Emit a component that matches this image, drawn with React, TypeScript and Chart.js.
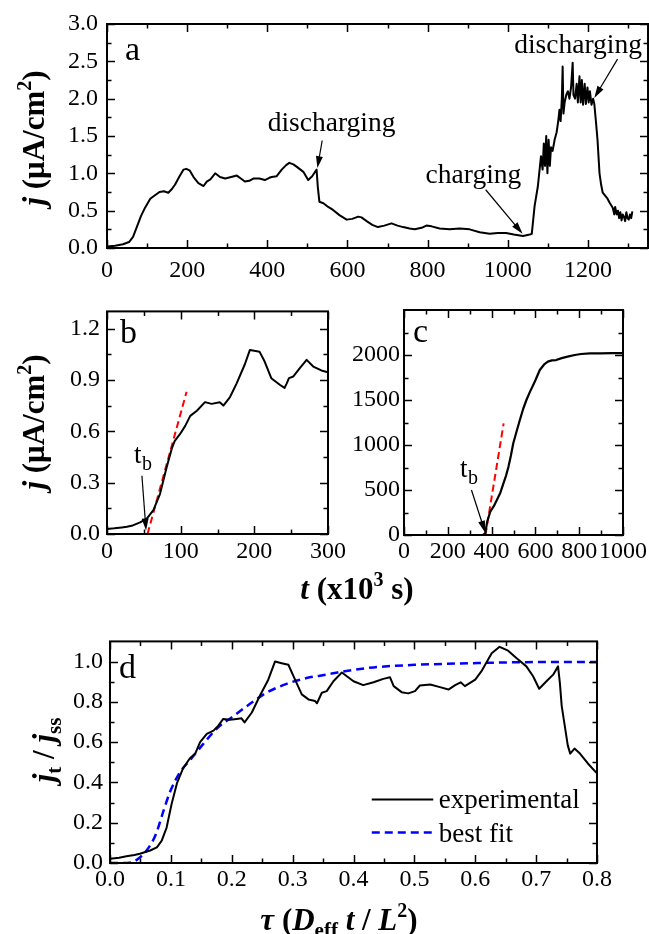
import React, { useEffect, useRef } from 'react';
import { Chart, registerables } from 'chart.js';

Chart.register(...registerables);

const FONT = '"Liberation Serif", "Times New Roman", Times, serif';
const TICK_SIZE = 24;

// ---------- Panel a: j vs t (x10^3 s) ----------
const aTime = [0, 20, 40, 55, 65, 75, 85, 95, 108, 118, 131, 142, 153, 162, 170, 180, 191, 198, 206, 216, 228, 241, 249, 258, 270, 282, 295, 310, 324, 334, 344, 355, 365, 380, 394, 405, 411, 423, 436, 447, 455, 465, 473, 490, 502, 512, 523, 526, 530, 540, 552, 564, 580, 598, 612, 627, 635, 648, 662, 676, 692, 710, 725, 739, 755, 768, 785, 797, 810, 830, 855, 880, 905, 930, 955, 975, 996, 1015, 1038, 1055, 1060, 1067, 1075, 1083, 1087, 1090, 1093, 1096, 1099, 1102, 1105, 1108, 1112, 1117, 1122, 1126, 1129, 1132, 1135, 1137, 1139, 1142, 1146, 1150, 1154, 1158, 1162, 1164, 1168, 1172, 1175, 1179, 1182, 1185, 1188, 1192, 1195, 1199, 1202, 1205, 1209, 1213, 1216, 1220, 1224, 1229, 1233, 1237, 1243, 1249, 1255, 1262, 1266, 1268, 1272, 1275, 1278, 1281, 1284, 1287, 1290, 1293, 1296, 1299, 1302, 1305, 1308, 1311];
const aCurrent = [0.02, 0.03, 0.05, 0.08, 0.15, 0.29, 0.43, 0.54, 0.66, 0.7, 0.75, 0.76, 0.74, 0.79, 0.85, 0.95, 1.05, 1.06, 1.04, 0.95, 0.87, 0.83, 0.89, 0.92, 1.0, 0.95, 0.93, 0.95, 0.97, 0.93, 0.89, 0.9, 0.93, 0.93, 0.91, 0.94, 0.95, 0.96, 1.05, 1.11, 1.14, 1.12, 1.09, 1.02, 0.91, 0.96, 1.05, 0.82, 0.62, 0.6, 0.55, 0.51, 0.44, 0.38, 0.39, 0.42, 0.41, 0.36, 0.31, 0.28, 0.3, 0.33, 0.3, 0.28, 0.26, 0.25, 0.27, 0.3, 0.29, 0.26, 0.25, 0.26, 0.25, 0.21, 0.19, 0.2, 0.2, 0.18, 0.16, 0.18, 0.19, 0.56, 0.82, 1.23, 1.05, 1.4, 1.1, 1.5, 1.0, 1.45, 1.1, 1.35, 1.3, 1.45, 1.55, 1.7, 1.85, 1.7, 2.0, 2.43, 1.8, 1.95, 2.05, 2.1, 2.0, 2.15, 2.48, 2.05, 2.0, 2.2, 1.95, 2.3, 1.95, 2.25, 1.92, 2.2, 1.93, 2.15, 1.95, 2.1, 1.92, 2.0, 1.93, 1.7, 1.45, 1.0, 0.85, 0.74, 0.7, 0.66, 0.6, 0.54, 0.45, 0.55, 0.45, 0.5, 0.4, 0.48, 0.37, 0.45, 0.42, 0.36, 0.48, 0.4, 0.38, 0.45, 0.4, 0.49];
const aXTicks = [0, 200, 400, 600, 800, 1000, 1200];
const aXMinor = [100, 300, 500, 700, 900, 1100, 1300];
const aYTicks = [0, 0.5, 1.0, 1.5, 2.0, 2.5, 3.0];
const aYMinor = [0.25, 0.75, 1.25, 1.75, 2.25, 2.75];

// ---------- Panel b ----------
const bTime = [0, 10, 20, 27, 35, 45, 54, 63, 72, 81, 88, 92, 99, 106, 113, 122, 133, 142, 153, 158, 167, 176, 187, 194, 200, 207, 214, 223, 235, 241, 244, 247, 253, 262, 271, 280, 291, 300];
const bCurrent = [0.029, 0.033, 0.038, 0.042, 0.05, 0.068, 0.09, 0.14, 0.235, 0.39, 0.5, 0.544, 0.583, 0.63, 0.69, 0.72, 0.77, 0.76, 0.77, 0.75, 0.8, 0.88, 0.99, 1.075, 1.07, 1.065, 1.007, 0.91, 0.87, 0.853, 0.88, 0.91, 0.92, 0.97, 1.017, 0.978, 0.955, 0.945];
const bFitTime = [55, 108];
const bFitCurrent = [0, 0.83];
const bXTicks = [0, 100, 200, 300];
const bXMinor = [50, 150, 250];
const bYTicks = [0, 0.3, 0.6, 0.9, 1.2];
const bYMinor = [0.15, 0.45, 0.75, 1.05];

// ---------- Panel c ----------
const cTime = [0, 100, 200, 300, 360, 371, 380, 394, 410, 424, 440, 454, 466, 477, 488, 499, 514, 529, 544, 559, 575, 590, 600, 620, 640, 657, 675, 695, 720, 747, 780, 808, 850, 898, 950, 1000];
const cCurrent = [0, 0, 0, 0, 0, 18, 150, 260, 320, 389, 470, 574, 660, 759, 880, 1019, 1150, 1278, 1400, 1500, 1590, 1667, 1720, 1833, 1895, 1926, 1940, 1944, 1965, 1982, 2000, 2011, 2018, 2019, 2020, 2020];
const cFitTime = [372, 455];
const cFitCurrent = [0, 1240];
const cXTicks = [0, 200, 400, 600, 800, 1000];
const cXMinor = [100, 300, 500, 700, 900];
const cYTicks = [0, 500, 1000, 1500, 2000];
const cYMinor = [250, 750, 1250, 1750, 2250];

// ---------- Panel d ----------
const dTau = [0, 0.015, 0.027, 0.04, 0.049, 0.066, 0.077, 0.085, 0.093, 0.101, 0.11, 0.12, 0.131, 0.14, 0.148, 0.159, 0.17, 0.178, 0.186, 0.197, 0.208, 0.216, 0.221, 0.233, 0.246, 0.26, 0.271, 0.282, 0.293, 0.304, 0.315, 0.326, 0.337, 0.34, 0.348, 0.356, 0.367, 0.381, 0.389, 0.4, 0.416, 0.433, 0.449, 0.46, 0.466, 0.479, 0.49, 0.501, 0.509, 0.526, 0.542, 0.556, 0.567, 0.576, 0.583, 0.6, 0.61, 0.627, 0.64, 0.654, 0.668, 0.684, 0.695, 0.705, 0.717, 0.728, 0.736, 0.739, 0.742, 0.747, 0.752, 0.756, 0.763, 0.772, 0.785, 0.8];
const dExperimental = [0.021, 0.026, 0.033, 0.04, 0.046, 0.062, 0.078, 0.111, 0.176, 0.29, 0.396, 0.47, 0.519, 0.543, 0.6, 0.641, 0.657, 0.682, 0.715, 0.711, 0.715, 0.718, 0.698, 0.747, 0.829, 0.91, 1.0, 0.992, 0.984, 0.91, 0.837, 0.812, 0.804, 0.793, 0.845, 0.853, 0.902, 0.946, 0.927, 0.902, 0.883, 0.897, 0.914, 0.922, 0.878, 0.848, 0.842, 0.853, 0.881, 0.886, 0.873, 0.861, 0.883, 0.897, 0.878, 0.91, 0.951, 1.041, 1.073, 1.054, 1.016, 0.976, 0.927, 0.865, 0.902, 0.935, 0.976, 0.894, 0.78, 0.682, 0.584, 0.543, 0.568, 0.543, 0.494, 0.445];
const dFitTau = [0, 0.02, 0.035, 0.05, 0.062, 0.075, 0.088, 0.099, 0.115, 0.134, 0.153, 0.175, 0.203, 0.23, 0.257, 0.29, 0.323, 0.356, 0.381, 0.433, 0.504, 0.597, 0.684, 0.8];
const dFitValues = [0, 0, 0.003, 0.03, 0.07, 0.14, 0.26, 0.356, 0.45, 0.52, 0.59, 0.666, 0.73, 0.79, 0.845, 0.889, 0.918, 0.935, 0.95, 0.971, 0.984, 0.992, 0.997, 0.998];
const dXTicks = [0, 0.1, 0.2, 0.3, 0.4, 0.5, 0.6, 0.7, 0.8];
const dXMinor = [0.05, 0.15, 0.25, 0.35, 0.45, 0.55, 0.65, 0.75];
const dYTicks = [0, 0.2, 0.4, 0.6, 0.8, 1.0];
const dYMinor = [0.1, 0.3, 0.5, 0.7, 0.9];

const pts = (xs: number[], ys: number[]) =>
  xs.slice(0, Math.min(xs.length, ys.length)).map((x, i) => ({ x, y: ys[i] }));

type Run = { t: string; w?: string; s?: number; dy?: number };

function richText(ctx: CanvasRenderingContext2D, runs: Run[], cx: number, cy: number, size: number, rotate = false) {
  ctx.save();
  ctx.translate(cx, cy);
  if (rotate) ctx.rotate(-Math.PI / 2);
  ctx.textBaseline = 'alphabetic';
  ctx.textAlign = 'left';
  ctx.fillStyle = '#000';
  const fonts = runs.map((r) => `${r.w ?? ''} ${r.s ?? size}px ${FONT}`);
  const widths = runs.map((r, i) => {
    ctx.font = fonts[i];
    return ctx.measureText(r.t).width;
  });
  const total = widths.reduce((a, b) => a + b, 0);
  let x = -total / 2;
  const base = size * 0.33;
  runs.forEach((r, i) => {
    ctx.font = fonts[i];
    ctx.fillText(r.t, x, base + (r.dy ?? 0));
    x += widths[i];
  });
  ctx.restore();
}

function text(ctx: CanvasRenderingContext2D, t: string, x: number, y: number, size: number, weight = '') {
  ctx.save();
  ctx.font = `${weight} ${size}px ${FONT}`;
  ctx.fillStyle = '#000';
  ctx.textAlign = 'left';
  ctx.textBaseline = 'alphabetic';
  ctx.fillText(t, x, y);
  ctx.restore();
}

function arrow(ctx: CanvasRenderingContext2D, x1: number, y1: number, x2: number, y2: number) {
  const head = 12;
  const w = 3.5;
  const ang = Math.atan2(y2 - y1, x2 - x1);
  ctx.save();
  ctx.strokeStyle = '#000';
  ctx.fillStyle = '#000';
  ctx.lineWidth = 1.2;
  ctx.beginPath();
  ctx.moveTo(x1, y1);
  ctx.lineTo(x2 - head * 0.6 * Math.cos(ang), y2 - head * 0.6 * Math.sin(ang));
  ctx.stroke();
  ctx.beginPath();
  ctx.moveTo(x2, y2);
  ctx.lineTo(x2 - head * Math.cos(ang) + w * Math.sin(ang), y2 - head * Math.sin(ang) - w * Math.cos(ang));
  ctx.lineTo(x2 - head * Math.cos(ang) - w * Math.sin(ang), y2 - head * Math.sin(ang) + w * Math.cos(ang));
  ctx.closePath();
  ctx.fill();
  ctx.restore();
}

interface Panel {
  canvasTop: number;
  canvasH: number;
  area: { left: number; top: number; right: number; bottom: number };
  xMin: number; xMax: number; yMin: number; yMax: number;
  xTicks: number[]; xMinor: number[]; yTicks: number[]; yMinor: number[];
  xFmt: (v: number) => string; yFmt: (v: number) => string;
  xPad: number; yPad: number;
  datasets: any[];
  decorate: (chart: any, ctx: CanvasRenderingContext2D) => void;
}

function frame(chart: any, p: Panel) {
  const { ctx, chartArea: a, scales } = chart;
  const xs = scales.x;
  const ys = scales.y;
  ctx.save();
  ctx.strokeStyle = '#000';
  ctx.lineWidth = 1.5;
  ctx.beginPath();
  const vt = (vals: number[], len: number) => {
    vals.forEach((v) => {
      const px = Math.round(xs.getPixelForValue(v)) + 0.5;
      ctx.moveTo(px, a.bottom);
      ctx.lineTo(px, a.bottom - len);
      ctx.moveTo(px, a.top);
      ctx.lineTo(px, a.top + len);
    });
  };
  const ht = (vals: number[], len: number) => {
    vals.forEach((v) => {
      const py = Math.round(ys.getPixelForValue(v)) + 0.5;
      ctx.moveTo(a.left, py);
      ctx.lineTo(a.left + len, py);
      ctx.moveTo(a.right, py);
      ctx.lineTo(a.right - len, py);
    });
  };
  vt(p.xTicks, 8);
  vt(p.xMinor, 4.5);
  ht(p.yTicks, 8);
  ht(p.yMinor, 4.5);
  ctx.stroke();
  ctx.lineWidth = 2;
  ctx.strokeRect(a.left, a.top, a.right - a.left, a.bottom - a.top);
  ctx.restore();
}

function buildConfig(p: Panel, id: string): any {
  const yW = Math.min(p.area.left, 100);
  return {
    type: 'line',
    data: { datasets: p.datasets },
    options: {
      responsive: false,
      maintainAspectRatio: false,
      animation: false,
      devicePixelRatio: 1,
      events: [],
      layout: {
        autoPadding: false,
        padding: {
          left: p.area.left - yW,
          top: p.area.top - p.canvasTop,
          right: 649 - p.area.right,
          bottom: 0,
        },
      },
      plugins: { legend: { display: false }, tooltip: { enabled: false } },
      elements: { point: { radius: 0 }, line: { tension: 0 } },
      scales: {
        x: {
          type: 'linear',
          min: p.xMin,
          max: p.xMax,
          grid: { display: false, drawTicks: false },
          border: { display: false },
          ticks: {
            color: '#000',
            font: { family: FONT, size: TICK_SIZE },
            padding: p.xPad,
            maxRotation: 0,
            autoSkip: false,
            callback: (v: any) => p.xFmt(Number(v)),
          },
          afterBuildTicks: (s: any) => {
            s.ticks = p.xTicks.map((v) => ({ value: v }));
          },
          afterFit: (s: any) => {
            s.height = p.canvasTop + p.canvasH - p.area.bottom;
          },
        },
        y: {
          type: 'linear',
          min: p.yMin,
          max: p.yMax,
          grid: { display: false, drawTicks: false },
          border: { display: false },
          ticks: {
            color: '#000',
            font: { family: FONT, size: TICK_SIZE },
            padding: p.yPad,
            autoSkip: false,
            callback: (v: any) => p.yFmt(Number(v)),
          },
          afterBuildTicks: (s: any) => {
            s.ticks = p.yTicks.map((v) => ({ value: v }));
          },
          afterFit: (s: any) => {
            s.width = yW;
          },
        },
      },
    },
    plugins: [
      {
        id,
        afterDraw: (chart: any) => {
          frame(chart, p);
          p.decorate(chart, chart.ctx);
        },
      },
    ],
  };
}

const f1 = (v: number) => v.toFixed(1);
const f0 = (v: number) => String(Math.round(v));

const jTitle: Run[] = [
  { t: 'j', w: 'bold italic' },
  { t: ' (\u03bcA/cm', w: 'bold' },
  { t: '2', w: 'bold', s: 20, dy: -13 },
  { t: ')', w: 'bold' },
];

const solid = (data: any[]) => ({ data, borderColor: '#000', borderWidth: 2, pointRadius: 0, fill: false, borderJoinStyle: 'round' });

function panelA(): Panel {
  return {
    canvasTop: 0,
    canvasH: 300,
    area: { left: 107, top: 24, right: 648, bottom: 248 },
    xMin: 0, xMax: 1350, yMin: 0, yMax: 3.0,
    xTicks: aXTicks, xMinor: aXMinor, yTicks: aYTicks, yMinor: aYMinor,
    xFmt: f0, yFmt: f1, xPad: 8, yPad: 9,
    datasets: [solid(pts(aTime, aCurrent))],
    decorate: (chart, ctx) => {
      const X = (v: number) => chart.scales.x.getPixelForValue(v);
      const Y = (v: number) => chart.scales.y.getPixelForValue(v);
      text(ctx, 'a', 125, 60, 34);
      text(ctx, 'discharging', X(401), Y(1.57), 27.5);
      arrow(ctx, X(537), Y(1.44), X(525), Y(1.07));
      text(ctx, 'charging', X(795), Y(0.874), 27.5);
      arrow(ctx, X(945), Y(0.78), X(1037), Y(0.19));
      text(ctx, 'discharging', X(1016), Y(2.61), 27.5);
      arrow(ctx, X(1274), Y(2.53), X(1216), Y(2.01));
      richText(ctx, jTitle, 34, 138, 31, true);
    },
  };
}

function panelB(): Panel {
  return {
    canvasTop: 290,
    canvasH: 320,
    area: { left: 107, top: 309, right: 328, bottom: 534 },
    xMin: 0, xMax: 300, yMin: 0, yMax: 1.3,
    xTicks: bXTicks, xMinor: bXMinor, yTicks: bYTicks, yMinor: bYMinor,
    xFmt: f0, yFmt: f1, xPad: 3, yPad: 7,
    datasets: [
      solid(pts(bTime, bCurrent)),
      { data: pts(bFitTime, bFitCurrent), borderColor: '#ff0000', borderWidth: 2, borderDash: [7, 4], pointRadius: 0, fill: false },
    ],
    decorate: (chart, ctx) => {
      const X = (v: number) => chart.scales.x.getPixelForValue(v);
      const Y = (v: number) => chart.scales.y.getPixelForValue(v);
      text(ctx, 'b', 120, 53, 34);
      text(ctx, 't', X(36.5), Y(0.417), 27);
      text(ctx, 'b', X(36.5) + 8, Y(0.417) + 7, 20);
      arrow(ctx, X(47.4), Y(0.34), X(53), Y(0.02));
      richText(ctx, jTitle, 34, 132, 31, true);
      richText(
        ctx,
        [
          { t: 't', w: 'bold italic' },
          { t: ' (x10', w: 'bold' },
          { t: '3', w: 'bold', s: 20, dy: -13 },
          { t: ' s)', w: 'bold' },
        ],
        357,
        299,
        31
      );
    },
  };
}

function panelC(): Panel {
  return {
    canvasTop: 290,
    canvasH: 320,
    area: { left: 404, top: 310, right: 626, bottom: 535 },
    xMin: 0, xMax: 1000, yMin: 0, yMax: 2500,
    xTicks: cXTicks, xMinor: cXMinor, yTicks: cYTicks, yMinor: cYMinor,
    xFmt: f0, yFmt: f0, xPad: 2, yPad: 4,
    datasets: [
      { ...solid(pts(cTime, cCurrent)), borderWidth: 2.2 },
      { data: pts(cFitTime, cFitCurrent), borderColor: '#ff0000', borderWidth: 2, borderDash: [7, 4], pointRadius: 0, fill: false },
    ],
    decorate: (chart, ctx) => {
      const X = (v: number) => chart.scales.x.getPixelForValue(v);
      const Y = (v: number) => chart.scales.y.getPixelForValue(v);
      text(ctx, 'c', 413, 52, 34);
      text(ctx, 't', X(256), Y(648), 27);
      text(ctx, 'b', X(256) + 8, Y(648) + 7, 20);
      arrow(ctx, X(308), Y(500), X(371), Y(26));
    },
  };
}

function panelD(): Panel {
  return {
    canvasTop: 620,
    canvasH: 314,
    area: { left: 110, top: 638, right: 597, bottom: 863 },
    xMin: 0, xMax: 0.8, yMin: 0, yMax: 1.1,
    xTicks: dXTicks, xMinor: dXMinor, yTicks: dYTicks, yMinor: dYMinor,
    xFmt: f1, yFmt: f1, xPad: 2, yPad: 7,
    datasets: [
      solid(pts(dTau, dExperimental)),
      { data: pts(dFitTau, dFitValues), borderColor: '#0000ff', borderWidth: 2.5, borderDash: [8, 5], pointRadius: 0, fill: false, cubicInterpolationMode: 'monotone' },
    ],
    decorate: (chart, ctx) => {
      const X = (v: number) => chart.scales.x.getPixelForValue(v);
      const Y = (v: number) => chart.scales.y.getPixelForValue(v);
      text(ctx, 'd', 119, 58, 34);
      // legend
      ctx.save();
      ctx.strokeStyle = '#000';
      ctx.lineWidth = 2;
      ctx.beginPath();
      ctx.moveTo(X(0.43), Y(0.315));
      ctx.lineTo(X(0.531), Y(0.315));
      ctx.stroke();
      ctx.strokeStyle = '#0000ff';
      ctx.lineWidth = 2.5;
      ctx.setLineDash([8, 5]);
      ctx.beginPath();
      ctx.moveTo(X(0.43), Y(0.152));
      ctx.lineTo(X(0.531), Y(0.152));
      ctx.stroke();
      ctx.restore();
      text(ctx, 'experimental', X(0.54), Y(0.275), 27);
      text(ctx, 'best fit', X(0.54), Y(0.105), 27);
      richText(
        ctx,
        [
          { t: 'j', w: 'bold italic' },
          { t: 't', w: 'bold', s: 21, dy: 7 },
          { t: ' / ', w: 'bold' },
          { t: 'j', w: 'bold italic' },
          { t: 'ss', w: 'bold', s: 21, dy: 7 },
        ],
        44,
        130,
        31,
        true
      );
      richText(
        ctx,
        [
          { t: '\u03c4', w: 'bold italic' },
          { t: ' (', w: 'bold' },
          { t: 'D', w: 'bold italic' },
          { t: 'eff', w: 'bold', s: 21, dy: 7 },
          { t: ' t', w: 'bold italic' },
          { t: ' / ', w: 'bold' },
          { t: 'L', w: 'bold italic' },
          { t: '2', w: 'bold', s: 20, dy: -13 },
          { t: ')', w: 'bold' },
        ],
        339,
        300,
        31
      );
    },
  };
}

export default function App() {
  const aRef = useRef<HTMLCanvasElement>(null);
  const bRef = useRef<HTMLCanvasElement>(null);
  const cRef = useRef<HTMLCanvasElement>(null);
  const dRef = useRef<HTMLCanvasElement>(null);

  useEffect(() => {
    const charts: Chart[] = [];
    const defs: [React.RefObject<HTMLCanvasElement>, Panel, string][] = [
      [aRef, panelA(), 'decorA'],
      [bRef, panelB(), 'decorB'],
      [cRef, panelC(), 'decorC'],
      [dRef, panelD(), 'decorD'],
    ];
    defs.forEach(([ref, p, id]) => {
      if (ref.current) charts.push(new Chart(ref.current, buildConfig(p, id)));
    });
    return () => charts.forEach((c) => c.destroy());
  }, []);

  const cs = (top: number): React.CSSProperties => ({ position: 'absolute', left: 0, top });
  return (
    <div style={{ position: 'absolute', left: 0, top: 0, width: 649, height: 934, background: '#fff', overflow: 'hidden' }}>
      <canvas ref={aRef} width={649} height={300} style={cs(0)} />
      <canvas ref={bRef} width={649} height={320} style={cs(290)} />
      <canvas ref={cRef} width={649} height={320} style={cs(290)} />
      <canvas ref={dRef} width={649} height={314} style={cs(620)} />
    </div>
  );
}
